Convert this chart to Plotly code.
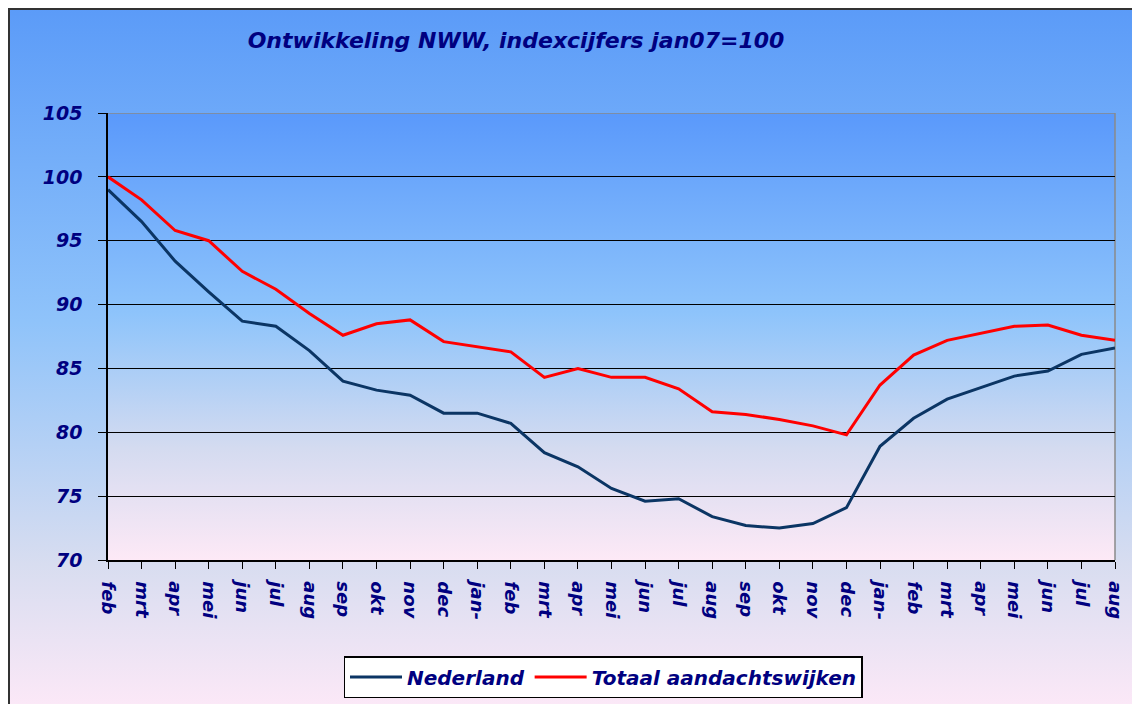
import base64
import plotly.graph_objects as go

months = ["feb", "mrt", "apr", "mei", "jun", "jul", "aug", "sep", "okt", "nov", "dec", "jan-",
          "feb", "mrt", "apr", "mei", "jun", "jul", "aug", "sep", "okt", "nov", "dec", "jan-",
          "feb", "mrt", "apr", "mei", "jun", "jul", "aug"]

nederland = [99.0, 96.5, 93.4, 91.0, 88.7, 88.3, 86.4, 84.0, 83.3, 82.9, 81.5, 81.5,
             80.7, 78.4, 77.3, 75.6, 74.6, 74.8, 73.4, 72.7, 72.5, 72.85, 74.1, 78.9,
             81.1, 82.6, 83.5, 84.4, 84.8, 86.1, 86.6]

aandachtswijken = [100.0, 98.2, 95.8, 95.0, 92.6, 91.2, 89.3, 87.6, 88.5, 88.8, 87.1, 86.7,
                   86.3, 84.3, 85.0, 84.3, 84.3, 83.4, 81.6, 81.4, 81.0, 80.5, 79.8, 83.7,
                   86.05, 87.2, 87.75, 88.3, 88.4, 87.6, 87.2]

y_ticks = [70, 75, 80, 85, 90, 95, 100, 105]

NAVY = "#000080"
FONT = "DejaVu Sans"

x_idx = list(range(len(months)))


def grad_svg(stops):
    st = "".join(f'<stop offset="{o}" stop-color="{c}"/>' for o, c in stops)
    svg = ('<svg xmlns="http://www.w3.org/2000/svg" width="100" height="100" '
           'viewBox="0 0 100 100" preserveAspectRatio="none">'
           '<defs><linearGradient id="g" x1="0" y1="0" x2="0" y2="1">' + st +
           '</linearGradient></defs><rect x="0" y="0" width="100" height="100" fill="url(#g)"/></svg>')
    return "data:image/svg+xml;base64," + base64.b64encode(svg.encode()).decode()


outer_bg = grad_svg([(0, "#5b9bf8"), (0.45, "#8fc3fa"), (0.8, "#d8ddf0"), (1, "#fbe8f7")])
plot_bg = grad_svg([(0, "#5a99fb"), (0.45, "#8ec4fb"), (0.75, "#d4dbf0"), (1, "#fde9f6")])

fig = go.Figure()
fig.add_trace(go.Scatter(x=x_idx, y=nederland, mode="lines", name="Nederland",
                         line=dict(color="#0b3564", width=3)))
fig.add_trace(go.Scatter(x=x_idx, y=aandachtswijken, mode="lines", name="Totaal aandachtswijken",
                         line=dict(color="#ff0000", width=3)))

# page body has an 8px margin; figure placed so plot area lands at 108..1115 x 113..560
W, H = 1132, 696
L, T = 100, 105
pw, ph = 1007, 447
R = W - L - pw
B = H - T - ph

fx0 = -L / pw
fy_top = (H - B) / ph

fig.update_layout(
    width=W, height=H,
    margin=dict(l=L, r=R, t=T, b=B, autoexpand=False),
    paper_bgcolor="white",
    plot_bgcolor="rgba(0,0,0,0)",
    title=dict(text="Ontwikkeling NWW, indexcijfers jan07=100",
               x=(516 - 108) / pw, xref="paper", xanchor="center",
               y=1 - 32 / H, yref="container", yanchor="middle",
               font=dict(family=FONT, size=22, color=NAVY, weight="bold", style="italic")),
    images=[
        dict(source=outer_bg, xref="paper", yref="paper", x=fx0, y=fy_top,
             sizex=W / pw, sizey=H / ph, xanchor="left", yanchor="top",
             sizing="stretch", layer="below"),
        dict(source=plot_bg, xref="paper", yref="paper", x=0, y=1, sizex=1, sizey=1,
             xanchor="left", yanchor="top", sizing="stretch", layer="below"),
    ],
    xaxis=dict(range=[0, len(months) - 1], tickvals=x_idx, ticktext=months, tickangle=90,
               showgrid=False, zeroline=False, showline=True, linecolor="black", linewidth=1.5,
               ticks="outside", ticklen=7, tickcolor="black", ticklabelstandoff=9,
               tickfont=dict(family=FONT, size=18, color=NAVY, weight="bold", style="italic")),
    yaxis=dict(range=[70, 105], tickvals=y_ticks, showgrid=True, gridcolor="black", gridwidth=1.2,
               zeroline=False, showline=True, linecolor="black", linewidth=1.5,
               ticks="outside", ticklen=8, tickcolor="black", ticklabelstandoff=12,
               tickfont=dict(family=FONT, size=19, color=NAVY, weight="bold", style="italic")),
    legend=dict(orientation="h", x=(603 - 108) / pw, xanchor="center",
                yref="container", y=1 - 669 / H,
                yanchor="middle", bgcolor="white", bordercolor="black", borderwidth=1.5,
                itemwidth=52,
                font=dict(family=FONT, size=20, color=NAVY, weight="bold", style="italic")),
    shapes=[
        dict(type="line", xref="paper", yref="y", x0=0, x1=1, y0=105, y1=105,
             line=dict(color="#8a8a8a", width=1.5), layer="between"),
        dict(type="line", xref="paper", yref="paper", x0=1, x1=1, y0=0, y1=1,
             line=dict(color="#8a8a8a", width=1.5), layer="between"),
        dict(type="rect", xref="paper", yref="paper", x0=fx0 + 1 / pw, x1=1.3, y0=-0.5,
             y1=fy_top - 1 / ph,
             line=dict(color="#333333", width=2), fillcolor="rgba(0,0,0,0)", layer="above"),
    ],
)

fig.write_html("out.html")
